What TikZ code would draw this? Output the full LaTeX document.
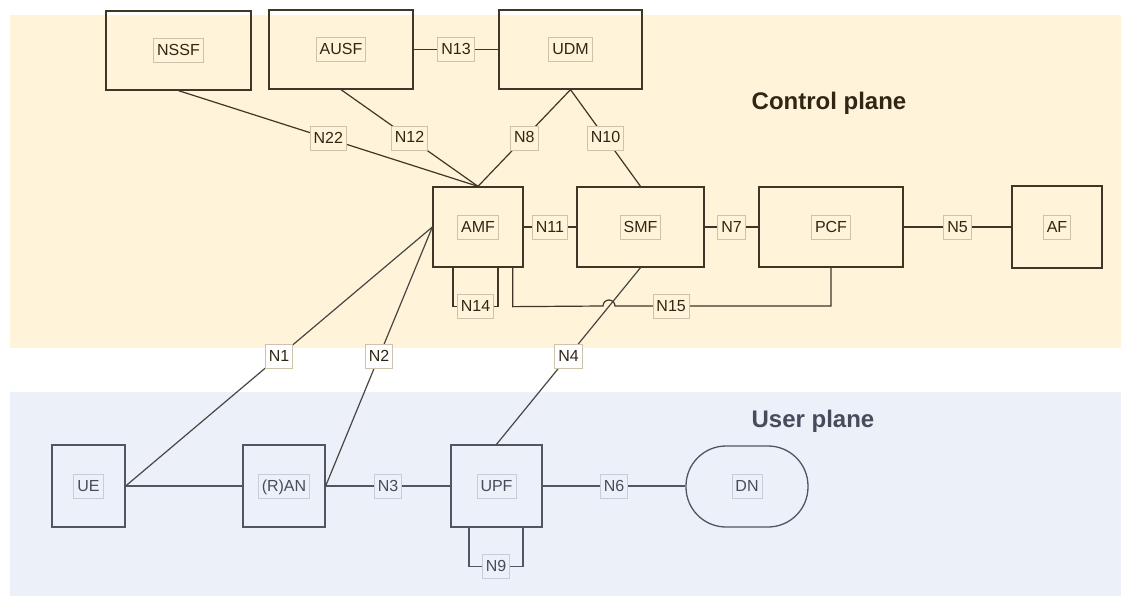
\documentclass[tikz,border=0pt]{standalone}
\usepackage{fontspec}
\setmainfont{Liberation Sans}
\usetikzlibrary{positioning}
\definecolor{cpbg}{RGB}{255,243,217}
\definecolor{upbg}{RGB}{236,240,249}
\definecolor{cpline}{RGB}{62,54,38}
\definecolor{upline}{RGB}{82,86,96}
\definecolor{xline}{RGB}{72,70,66}
\definecolor{cptag}{RGB}{205,195,172}
\definecolor{uptag}{RGB}{200,204,214}
\definecolor{cptext}{RGB}{48,38,20}
\definecolor{uptext}{RGB}{70,76,92}

\tikzset{
  nfc/.style={draw=cpline, line width=1.3pt, inner sep=0pt},
  nfu/.style={draw=upline, line width=1.3pt, inner sep=0pt},
  tagc/.style={draw=cptag, fill=cpbg, line width=0.9pt, inner xsep=3.5pt, inner ysep=5.5pt,
    text height=11.5pt, text depth=1.5pt, font=\fontsize{16}{16}\selectfont, text=cptext},
  tagu/.style={tagc, draw=uptag, fill=upbg, text=uptext},
  link/.style={draw=cpline, line width=1.2pt},
  ulink/.style={draw=upline, line width=1.2pt},
  xlink/.style={draw=xline, line width=1.2pt},
  plane/.style={font=\bfseries\fontsize{24}{24}\selectfont}
}

\begin{document}
\begin{tikzpicture}[x=1pt,y=-1pt]
		\useasboundingbox (0,0) rectangle (1121,596);
		\fill[cpbg] (10,15) rectangle (1121,348);
		\fill[upbg] (10,392) rectangle (1121,596);

		\node[plane, text=cptext] (cptitle) at (829,103) {Control plane};
		\node[plane, text=uptext] (uptitle) at (813,421) {User plane};

		% control plane
		\node[nfc, minimum width=145pt, minimum height=79pt, label={[tagc]center:NSSF}] (nssf) at (178.5,50.5) {};
		\node[nfc, minimum width=144pt, minimum height=79pt, label={[tagc]center:AUSF}] (ausf) at (341,49.5) {};
		\node[nfc, minimum width=143pt, minimum height=79pt, label={[tagc]center:UDM}] (udm) at (570.5,49.5) {};
		\node[nfc, minimum width=90pt, minimum height=80pt, label={[tagc]center:AMF}] (amf) at (478,227) {};
		\node[nfc, minimum width=127pt, minimum height=80pt, label={[tagc]center:SMF}] (smf) at (640.5,227) {};
		\node[nfc, minimum width=144pt, minimum height=80pt, label={[tagc]center:PCF}] (pcf) at (831,227) {};
		\node[nfc, minimum width=90pt, minimum height=82pt, label={[tagc]center:AF}] (af) at (1057,227) {};

		% user plane
		\node[nfu, minimum width=73pt, minimum height=82pt, label={[tagu]center:UE}] (ue) at (88.5,486) {};
		\node[nfu, minimum width=82pt, minimum height=82pt, label={[tagu]center:(R)AN}] (ran) at (284,486) {};
		\node[nfu, minimum width=91pt, minimum height=82pt, label={[tagu]center:UPF}] (upf) at (496.5,486) {};
		\node[nfu, rounded corners=40pt, minimum width=122pt, minimum height=81pt, label={[tagu]center:DN}] (dn) at (747,486.5) {};

		\draw[link] (nssf.south) -- node[tagc]{N22} (amf.north);
		\draw[link] (ausf.south) -- node[tagc]{N12} (amf.north);
		\draw[link] (udm.south) -- node[tagc]{N8} (amf.north);
		\draw[link] (udm.south) -- node[tagc]{N10} (smf.north);
		\draw[link] (ausf.east) -- node[tagc]{N13} (udm.west);
		\draw[link] (amf.east) -- node[tagc]{N11} (smf.west);
		\draw[link] (smf.east) -- node[tagc]{N7} (pcf.west);
		\draw[link] (pcf.east) -- node[tagc]{N5} (af.west);
		\draw[link] ([xshift=-25pt]amf.south) -- ++(0,39) -| node[tagc, pos=0.25]{N14} ([xshift=20pt]amf.south);
		\draw[link] ([xshift=-11pt]amf.south east) -- ++(0,39) -- (603,306)
			arc[start angle=180, end angle=0, radius=6pt]
			-- node[tagc, pos=0.26]{N15} (pcf.south |- 0,306) -- (pcf.south);

		\draw[xlink] (ue.east) -- node[tagc, fill=white]{N1} (amf.west);
		\draw[xlink] (ran.east) -- node[tagc, fill=white]{N2} (amf.west);
		\draw[xlink] (smf.south) -- node[tagc, fill=white]{N4} (upf.north);

		\draw[ulink] (ue.east) -- (ran.west);
		\draw[ulink] (ran.east) -- node[tagu]{N3} (upf.west);
		\draw[ulink] (upf.east) -- node[tagu]{N6} (upf.east -| dn.west);
		\draw[ulink] ([xshift=-27.5pt]upf.south) -- ++(0,39) -| node[tagu, pos=0.25]{N9} ([xshift=26.5pt]upf.south);
	\end{tikzpicture}
\end{document}
